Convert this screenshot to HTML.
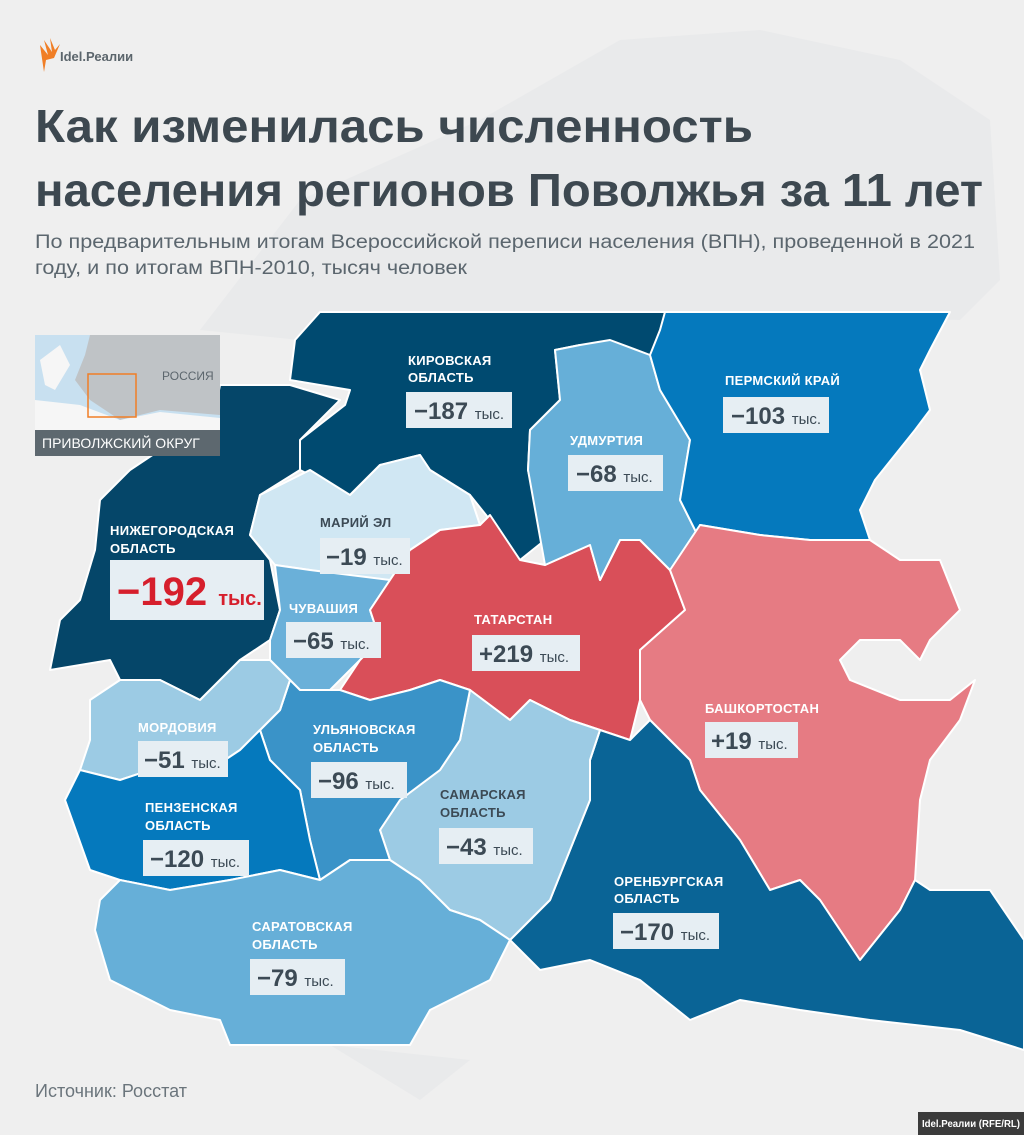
<!DOCTYPE html>
<html><head><meta charset="utf-8"><style>
body{margin:0;background:#efefef;}
svg{display:block;font-family:"Liberation Sans",sans-serif;}
.n{font-size:13px;font-weight:bold;fill:#fff;letter-spacing:0.3px}
.nd{font-size:13px;font-weight:bold;fill:#3c4a55;letter-spacing:0.3px}
.v{font-size:24px;font-weight:bold;fill:#3c4a55}
.t{font-size:15px;font-weight:normal}
</style></head><body>
<svg width="1024" height="1135" viewBox="0 0 1024 1135">
<rect width="1024" height="1135" fill="#efefef"/>
<path d="M480 120 L620 40 L760 30 L900 60 L990 120 L1000 280 L960 320 L660 312 L320 312 L300 340 L200 330 L300 200 Z" fill="#e9eaeb"/>
<path d="M330 1045 L420 1100 L470 1060 Z" fill="#e9eaeb"/>
<g stroke="#fff" stroke-width="2" stroke-linejoin="round">
<polygon fill="#004a70" points="320,312 665,312 660,370 580,345 555,350 560,400 530,430 528,470 545,540 520,560 490,520 470,495 430,470 420,455 380,465 350,495 300,470 300,440 345,405 350,390 290,380 295,340"/>
<polygon fill="#054669" points="220,385 290,385 340,400 300,440 300,470 260,495 250,535 270,560 280,610 270,640 240,660 220,680 200,700 160,680 120,680 110,660 50,670 60,620 80,600 95,550 100,500 130,470 175,440 215,410"/>
<polygon fill="#d0e7f3" points="260,495 310,470 350,495 380,465 420,455 430,470 470,495 480,525 440,530 410,550 390,580 350,580 310,570 275,565 250,535"/>
<polygon fill="#6ab0d9" points="275,565 310,570 390,580 370,610 380,640 360,660 330,690 300,690 290,680 270,660 270,640 280,610"/>
<polygon fill="#d94f59" points="390,580 410,550 440,530 480,525 490,515 520,560 545,565 590,545 600,580 620,540 640,540 670,570 685,610 640,650 640,700 630,740 600,730 570,720 530,700 510,720 470,690 440,680 410,690 370,700 340,690 360,660 380,640 370,610"/>
<polygon fill="#66afd8" points="555,350 580,345 610,340 650,355 660,390 690,440 680,500 700,540 670,570 640,540 620,540 600,580 590,545 545,565 528,470 530,430 560,400"/>
<polygon fill="#0579bd" points="665,312 950,312 930,350 920,370 930,410 915,430 875,480 860,510 870,540 810,540 760,535 700,525 700,540 680,500 690,440 660,390 650,355 660,330"/>
<polygon fill="#e67b83" points="700,525 760,535 810,540 870,540 900,560 940,560 960,610 930,640 920,660 900,640 860,640 840,660 850,680 900,700 950,700 975,680 960,720 930,760 920,800 915,880 900,910 860,960 820,900 800,880 770,890 740,840 700,790 690,760 650,720 640,700 640,650 685,610 670,570"/>
<polygon fill="#0a6496" points="600,730 630,740 650,720 690,760 700,790 740,840 770,890 800,880 820,900 860,960 900,910 915,880 930,890 990,890 1024,940 1024,1050 960,1030 870,1020 800,1010 740,1000 690,1020 640,980 590,960 540,970 510,940 550,900 570,850 590,800 590,760"/>
<polygon fill="#9ccbe4" points="470,690 510,720 530,700 570,720 600,730 590,760 590,800 570,850 550,900 510,940 480,920 450,910 420,880 390,860 380,830 400,800 440,770 460,740"/>
<polygon fill="#3a93c8" points="290,680 300,690 340,690 370,700 410,690 440,680 470,690 460,740 440,770 400,800 380,830 390,860 350,860 320,880 310,840 300,790 270,760 260,730 280,710"/>
<polygon fill="#9ccbe4" points="90,700 120,680 160,680 200,700 220,680 240,660 270,660 290,680 280,710 260,730 240,750 210,770 180,760 120,780 80,770 90,740"/>
<polygon fill="#0579bd" points="80,770 120,780 180,760 210,770 240,750 260,730 270,760 300,790 310,840 320,880 280,870 230,880 170,890 120,880 90,870 65,800"/>
<polygon fill="#66afd8" points="120,880 170,890 230,880 280,870 320,880 350,860 390,860 420,880 450,910 480,920 510,940 490,980 430,1010 410,1045 230,1045 220,1020 170,1010 110,980 95,930 100,900"/>
</g>
<!-- inset -->
<rect x="35" y="335" width="185" height="95" fill="#c8e0f0"/>
<path d="M90 335 L220 335 L220 415 L160 410 L120 420 L90 400 L75 380 L85 355 Z" fill="#bfc3c6"/>
<path d="M35 400 L80 405 L120 420 L160 412 L220 418 L220 430 L35 430 Z" fill="#f6f6f6"/>
<path d="M40 360 L60 345 L70 365 L55 390 L45 385 Z" fill="#f6f6f6"/>
<rect x="88" y="374" width="48" height="43" fill="none" stroke="#f07e26" stroke-width="1.5"/>
<text x="162" y="380" font-size="12" fill="#5c666d">РОССИЯ</text>
<rect x="35" y="430" width="185" height="26" fill="#5d686f"/>
<text x="42" y="448" font-size="14" fill="#fff">ПРИВОЛЖСКИЙ ОКРУГ</text>
<!-- logo -->
<path d="M40 45 L48 55 L44 40 L52 52 L50 38 L55 50 L60 44 L54 58 L46 60 L44 72 Z" fill="#f07e26"/>
<text x="60" y="61" font-size="13" font-weight="bold" fill="#5b656c">Idel.Реалии</text>
<!-- title -->
<g font-weight="bold" fill="#3d4850" font-size="46">
<text x="35" y="142" textLength="718" lengthAdjust="spacingAndGlyphs">Как изменилась численность</text>
<text x="35" y="206" textLength="948" lengthAdjust="spacingAndGlyphs">населения регионов Поволжья за 11 лет</text>
</g>
<g font-size="19" fill="#5b666e">
<text x="35" y="248" textLength="940" lengthAdjust="spacingAndGlyphs">По предварительным итогам Всероссийской переписи населения (ВПН), проведенной в 2021</text>
<text x="35" y="274" textLength="432" lengthAdjust="spacingAndGlyphs">году, и по итогам ВПН-2010, тысяч человек</text>
</g>
<!-- labels -->
<g>
<text class="n" x="408" y="365">КИРОВСКАЯ</text><text class="n" x="408" y="382">ОБЛАСТЬ</text>
<rect x="406" y="392" width="106" height="36" fill="#e6eef3"/><text class="v" x="414" y="419">−187 <tspan class="t">тыс.</tspan></text>
<text class="n" x="725" y="385">ПЕРМСКИЙ КРАЙ</text>
<rect x="723" y="397" width="106" height="36" fill="#e6eef3"/><text class="v" x="731" y="424">−103 <tspan class="t">тыс.</tspan></text>
<text class="n" x="570" y="445">УДМУРТИЯ</text>
<rect x="568" y="455" width="95" height="36" fill="#e6eef3"/><text class="v" x="576" y="482">−68 <tspan class="t">тыс.</tspan></text>
<text class="nd" x="320" y="527">МАРИЙ ЭЛ</text>
<rect x="320" y="538" width="90" height="36" fill="#e6eef3"/><text class="v" x="326" y="565">−19 <tspan class="t">тыс.</tspan></text>
<text class="n" x="110" y="535">НИЖЕГОРОДСКАЯ</text><text class="n" x="110" y="553">ОБЛАСТЬ</text>
<rect x="110" y="560" width="154" height="60" fill="#e6eef3"/><text x="117" y="605" font-size="40" font-weight="bold" fill="#d61f2c">−192 <tspan font-size="20">тыс.</tspan></text>
<text class="n" x="289" y="613">ЧУВАШИЯ</text>
<rect x="286" y="622" width="95" height="36" fill="#e6eef3"/><text class="v" x="293" y="649">−65 <tspan class="t">тыс.</tspan></text>
<text class="n" x="474" y="624">ТАТАРСТАН</text>
<rect x="472" y="635" width="108" height="36" fill="#e6eef3"/><text class="v" x="479" y="662">+219 <tspan class="t">тыс.</tspan></text>
<text class="n" x="705" y="713">БАШКОРТОСТАН</text>
<rect x="705" y="722" width="93" height="36" fill="#e6eef3"/><text class="v" x="711" y="749">+19 <tspan class="t">тыс.</tspan></text>
<text class="n" x="138" y="732">МОРДОВИЯ</text>
<rect x="138" y="741" width="90" height="36" fill="#e6eef3"/><text class="v" x="144" y="768">−51 <tspan class="t">тыс.</tspan></text>
<text class="n" x="313" y="734">УЛЬЯНОВСКАЯ</text><text class="n" x="313" y="752">ОБЛАСТЬ</text>
<rect x="311" y="762" width="96" height="36" fill="#e6eef3"/><text class="v" x="318" y="789">−96 <tspan class="t">тыс.</tspan></text>
<text class="nd" x="440" y="799">САМАРСКАЯ</text><text class="nd" x="440" y="817">ОБЛАСТЬ</text>
<rect x="439" y="828" width="94" height="36" fill="#e6eef3"/><text class="v" x="446" y="855">−43 <tspan class="t">тыс.</tspan></text>
<text class="n" x="145" y="812">ПЕНЗЕНСКАЯ</text><text class="n" x="145" y="830">ОБЛАСТЬ</text>
<rect x="143" y="840" width="106" height="36" fill="#e6eef3"/><text class="v" x="150" y="867">−120 <tspan class="t">тыс.</tspan></text>
<text class="n" x="614" y="886">ОРЕНБУРГСКАЯ</text><text class="n" x="614" y="903">ОБЛАСТЬ</text>
<rect x="613" y="913" width="106" height="36" fill="#e6eef3"/><text class="v" x="620" y="940">−170 <tspan class="t">тыс.</tspan></text>
<text class="n" x="252" y="931">САРАТОВСКАЯ</text><text class="n" x="252" y="949">ОБЛАСТЬ</text>
<rect x="250" y="959" width="95" height="36" fill="#e6eef3"/><text class="v" x="257" y="986">−79 <tspan class="t">тыс.</tspan></text>
</g>
<text x="35" y="1097" font-size="18" fill="#6b757c">Источник: Росстат</text>
<rect x="918" y="1112" width="106" height="23" fill="#3b3b3b"/>
<text x="922" y="1127" font-size="10" font-weight="bold" fill="#fff" textLength="98" lengthAdjust="spacingAndGlyphs">Idel.Реалии (RFE/RL)</text>
</svg>
</body></html>
